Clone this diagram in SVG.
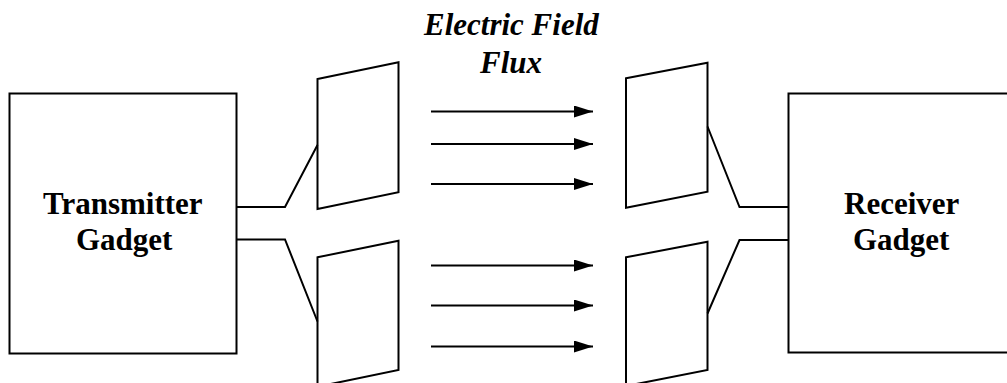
<svg xmlns="http://www.w3.org/2000/svg" width="1007" height="383" viewBox="0 0 1007 383" font-family="Liberation Serif, Times New Roman, serif">
<style>
text{font-family:"Liberation Serif","Times New Roman",serif;font-weight:bold;font-size:31px;fill:#000}
.it{font-style:italic}
.s{fill:none;stroke:#000;stroke-width:2}
</style>
<defs>
<marker id="ah" markerWidth="19" markerHeight="12" refX="19" refY="6" orient="auto" markerUnits="userSpaceOnUse">
<path d="M0,0 L19,6 L0,12 Z" fill="#000"/>
</marker>
</defs>
<rect width="1007" height="383" fill="#fff"/>
<g id="transmitter">
<rect fill="#fff" stroke="#000" stroke-width="2" x="9.5" y="93.5" width="227" height="260"/>
<text x="43" y="214" style="font-family:'Liberation Serif',serif">Transmitter</text>
<text x="76" y="250" style="font-family:'Liberation Serif',serif">Gadget</text>
</g>
<g id="receiver">
<rect fill="#fff" stroke="#000" stroke-width="2" x="788.5" y="93.5" width="230" height="259"/>
<text x="844" y="214" style="font-family:'Liberation Serif',serif">Receiver</text>
<text x="853" y="250" style="font-family:'Liberation Serif',serif">Gadget</text>
</g>
<g id="tx-plate-top"><path class="s" d="M317.5,79 L398.5,62.3 L398.5,192.3 L317.5,209 Z"/></g>
<g id="tx-plate-bottom"><path class="s" d="M317.5,257.3 L398.5,240.7 L398.5,370 L317.5,386.7 Z"/></g>
<g id="rx-plate-top"><path class="s" d="M626,78.3 L707.5,62.7 L707.5,191.7 L626,207.7 Z"/></g>
<g id="rx-plate-bottom"><path class="s" d="M626,257.3 L707.5,241.7 L707.5,370 L626,386 Z"/></g>
<g id="flux-label">
<text class="it" x="424" y="35" style="font-family:'Liberation Serif',serif">Electric Field</text>
<text class="it" x="480" y="73" style="font-family:'Liberation Serif',serif">Flux</text>
</g>
<g id="connectors">
<path class="s" d="M236.5,207 L285,207 L317.5,145"/>
<path class="s" d="M236.5,239.5 L285,239.5 L317.5,321.5"/>
<path class="s" d="M788.5,207 L739.5,207 L707.5,126.5"/>
<path class="s" d="M788.5,240 L739.5,240 L707.5,313.5"/>
<line class="s" x1="431" y1="111.5" x2="593" y2="111.5" marker-end="url(#ah)"/>
<line class="s" x1="431" y1="144" x2="593" y2="144" marker-end="url(#ah)"/>
<line class="s" x1="431" y1="184" x2="593" y2="184" marker-end="url(#ah)"/>
<line class="s" x1="431" y1="265.5" x2="593" y2="265.5" marker-end="url(#ah)"/>
<line class="s" x1="431" y1="305.5" x2="593" y2="305.5" marker-end="url(#ah)"/>
<line class="s" x1="431" y1="346.5" x2="593" y2="346.5" marker-end="url(#ah)"/>
</g>
</svg>
